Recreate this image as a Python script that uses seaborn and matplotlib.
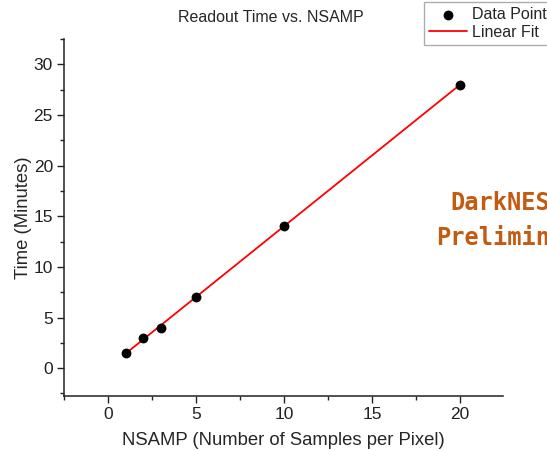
import numpy as np
import pandas as pd
import matplotlib
matplotlib.use('Agg')
import matplotlib.pyplot as plt
import seaborn as sns
from matplotlib.ticker import MultipleLocator

nsamp = [1, 2, 3, 5, 10, 20]
minutes = [1.5, 3.0, 4.0, 7.0, 14.0, 28.0]

df = pd.DataFrame({'NSAMP': nsamp, 'Time': minutes})

# linear fit of the points
slope, intercept = np.polyfit(df['NSAMP'], df['Time'], 1)
fit_x = np.array([min(nsamp), max(nsamp)])
fit_df = pd.DataFrame({'NSAMP': fit_x, 'Time': slope * fit_x + intercept})

sns.set_style('ticks')
plt.rcParams['font.family'] = ['Liberation Sans', 'DejaVu Sans']

fig = plt.figure(figsize=(5.47, 4.51), dpi=100)
ax = fig.add_axes([64 / 547, 1 - 396 / 451, (503 - 64) / 547, (396 - 39) / 451])

sns.lineplot(data=fit_df, x='NSAMP', y='Time', color='red', linewidth=1.3,
             label='Linear Fit', ax=ax, zorder=2)
sns.scatterplot(data=df, x='NSAMP', y='Time', color='black', s=50,
                edgecolor='black', linewidth=0, label='Data Point', ax=ax, zorder=3)

ax.set_xlim(-2.5, 22.45)
ax.set_ylim(-2.75, 32.5)
ax.xaxis.set_major_locator(MultipleLocator(5))
ax.xaxis.set_minor_locator(MultipleLocator(2.5))
ax.yaxis.set_major_locator(MultipleLocator(5))
ax.yaxis.set_minor_locator(MultipleLocator(2.5))
ax.tick_params(which='major', length=5, width=1, labelsize=12.5, colors='#222222', pad=3)
ax.tick_params(which='minor', length=3, width=1, colors='#222222')
for s in ['left', 'bottom']:
    ax.spines[s].set_linewidth(1.1)
    ax.spines[s].set_color('#222222')
sns.despine(ax=ax)

ax.set_xlabel('NSAMP (Number of Samples per Pixel)', fontsize=13.3, labelpad=7)
ax.set_ylabel('Time (Minutes)', fontsize=13.3, labelpad=1)
fig.text(271 / 547, 1 - 18 / 451, 'Readout Time vs. NSAMP', ha='center',
         va='center', fontsize=11.5)

# legend, cut by the right edge like the original
handles, labels = ax.get_legend_handles_labels()
order = [labels.index('Data Point'), labels.index('Linear Fit')]
ax.get_legend().remove()
fig.legend([handles[i] for i in order], [labels[i] for i in order],
           loc='upper left', bbox_to_anchor=(424 / 547, 1 - 2 / 451),
           frameon=True, fancybox=False, edgecolor='#999999', fontsize=11.5,
           handlelength=2.4, borderpad=0.3, labelspacing=0.2,
           handletextpad=0.3, borderaxespad=0)

# watermark
wm = dict(color='#c55a11', fontsize=17, fontweight='bold',
          family=['DejaVu Sans Mono'], va='center', ha='left')
fig.text(450 / 547, 1 - 203 / 451, 'DarkNESS', **wm)
fig.text(436 / 547, 1 - 237 / 451, 'Preliminary', **wm)

fig.savefig('out.png', dpi=100)
